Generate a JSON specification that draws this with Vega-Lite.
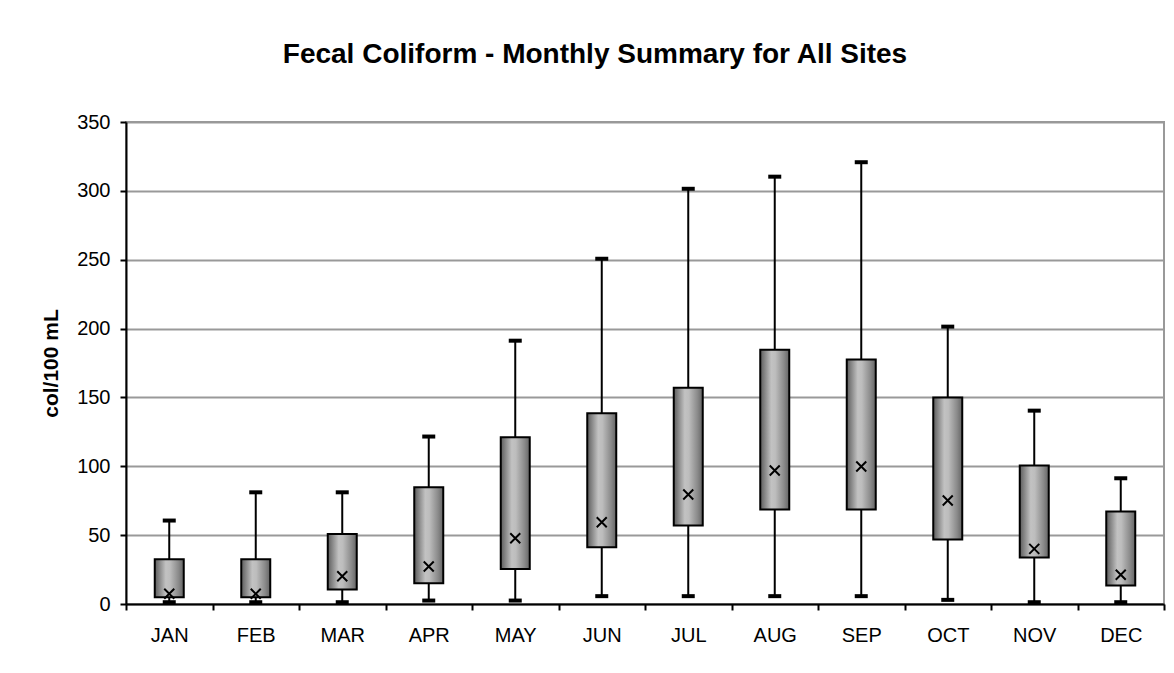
{
  "$schema": "https://vega.github.io/schema/vega-lite/v6.json",
  "width": 1038,
  "height": 482,
  "autosize": {"type": "none"},
  "padding": {"left": 126, "top": 122, "right": 10, "bottom": 69},
  "background": "white",
  "title": {
    "text": "Fecal Coliform - Monthly Summary for All Sites",
    "font": "Liberation Sans",
    "fontSize": 28,
    "fontWeight": "bold",
    "color": "black",
    "anchor": "middle",
    "frame": "group",
    "baseline": "alphabetic",
    "offset": 21,
    "dx": -50
  },
  "config": {
    "view": {"stroke": "#999999", "strokeWidth": 2},
    "axis": {
      "labelFont": "Liberation Sans",
      "labelFontSize": 20,
      "labelColor": "black",
      "titleFont": "Liberation Sans",
      "titleColor": "black",
      "domainColor": "black",
      "domainWidth": 2,
      "tickColor": "black",
      "tickWidth": 2,
      "tickSize": 6
    }
  },
  "data": {
    "values": [
      {"month": "JAN", "min": 1.3, "q1": 4.9, "q3": 32.5, "max": 60.6, "mean": 7.4},
      {"month": "FEB", "min": 1.3, "q1": 4.9, "q3": 32.5, "max": 81.1, "mean": 7.4},
      {"month": "MAR", "min": 1.3, "q1": 10.5, "q3": 50.9, "max": 81.1, "mean": 20.2},
      {"month": "APR", "min": 2.5, "q1": 15.1, "q3": 84.8, "max": 121.6, "mean": 27.2},
      {"month": "MAY", "min": 2.5, "q1": 25.5, "q3": 121, "max": 191.2, "mean": 47.8},
      {"month": "JUN", "min": 5.7, "q1": 41.2, "q3": 138.5, "max": 250.7, "mean": 59.4},
      {"month": "JUL", "min": 5.7, "q1": 57, "q3": 157.1, "max": 301.5, "mean": 79.5},
      {"month": "AUG", "min": 5.7, "q1": 68.6, "q3": 184.7, "max": 310.3, "mean": 96.9},
      {"month": "SEP", "min": 5.7, "q1": 68.6, "q3": 177.5, "max": 320.8, "mean": 99.8},
      {"month": "OCT", "min": 3, "q1": 46.8, "q3": 149.9, "max": 201.4, "mean": 75.1},
      {"month": "NOV", "min": 1.3, "q1": 33.7, "q3": 100.5, "max": 140.4, "mean": 40},
      {"month": "DEC", "min": 1.3, "q1": 13.4, "q3": 67.1, "max": 91.3, "mean": 21.2}
    ]
  },
  "encoding": {
    "x": {
      "field": "month",
      "type": "nominal",
      "sort": ["JAN","FEB","MAR","APR","MAY","JUN","JUL","AUG","SEP","OCT","NOV","DEC"],
      "scale": {"paddingInner": 0, "paddingOuter": 0},
      "axis": {
        "title": null,
        "labelAngle": 0,
        "tickBand": "extent",
        "labelPadding": 15,
        "grid": false
      }
    }
  },
  "layer": [
    {
      "mark": {"type": "rule", "color": "black", "strokeWidth": 2},
      "encoding": {
        "y": {
          "field": "min",
          "type": "quantitative",
          "scale": {"domain": [0, 350], "nice": false, "zero": true},
          "axis": {
            "title": "col/100 mL",
            "titleFontSize": 21,
            "titleFontWeight": "bold",
            "titlePadding": 15,
            "values": [0, 50, 100, 150, 200, 250, 300, 350],
            "grid": true,
            "gridColor": "#999999",
            "gridWidth": 2,
            "labelPadding": 10
          }
        },
        "y2": {"field": "max"}
      }
    },
    {
      "mark": {"type": "tick", "color": "black", "opacity": 1, "size": 13, "thickness": 4, "orient": "horizontal"},
      "encoding": {"y": {"field": "max", "type": "quantitative"}}
    },
    {
      "mark": {"type": "tick", "color": "black", "opacity": 1, "size": 13, "thickness": 4, "orient": "horizontal"},
      "encoding": {"y": {"field": "min", "type": "quantitative"}}
    },
    {
      "mark": {
        "type": "bar",
        "size": 29,
        "stroke": "black",
        "strokeWidth": 2,
        "opacity": 1,
        "color": {
          "gradient": "linear",
          "x1": 0, "y1": 0, "x2": 1, "y2": 0,
          "stops": [
            {"offset": 0, "color": "#5c5c5c"},
            {"offset": 0.38, "color": "#c2c2c2"},
            {"offset": 0.52, "color": "#bdbdbd"},
            {"offset": 0.82, "color": "#8a8a8a"},
            {"offset": 1, "color": "#646464"}
          ]
        }
      },
      "encoding": {
        "y": {"field": "q1", "type": "quantitative"},
        "y2": {"field": "q3"}
      }
    },
    {
      "mark": {
        "type": "point",
        "shape": "M-1,-1L1,1M-1,1L1,-1",
        "filled": false,
        "stroke": "black",
        "strokeWidth": 2,
        "size": 100,
        "opacity": 1
      },
      "encoding": {"y": {"field": "mean", "type": "quantitative"}}
    }
  ]
}
